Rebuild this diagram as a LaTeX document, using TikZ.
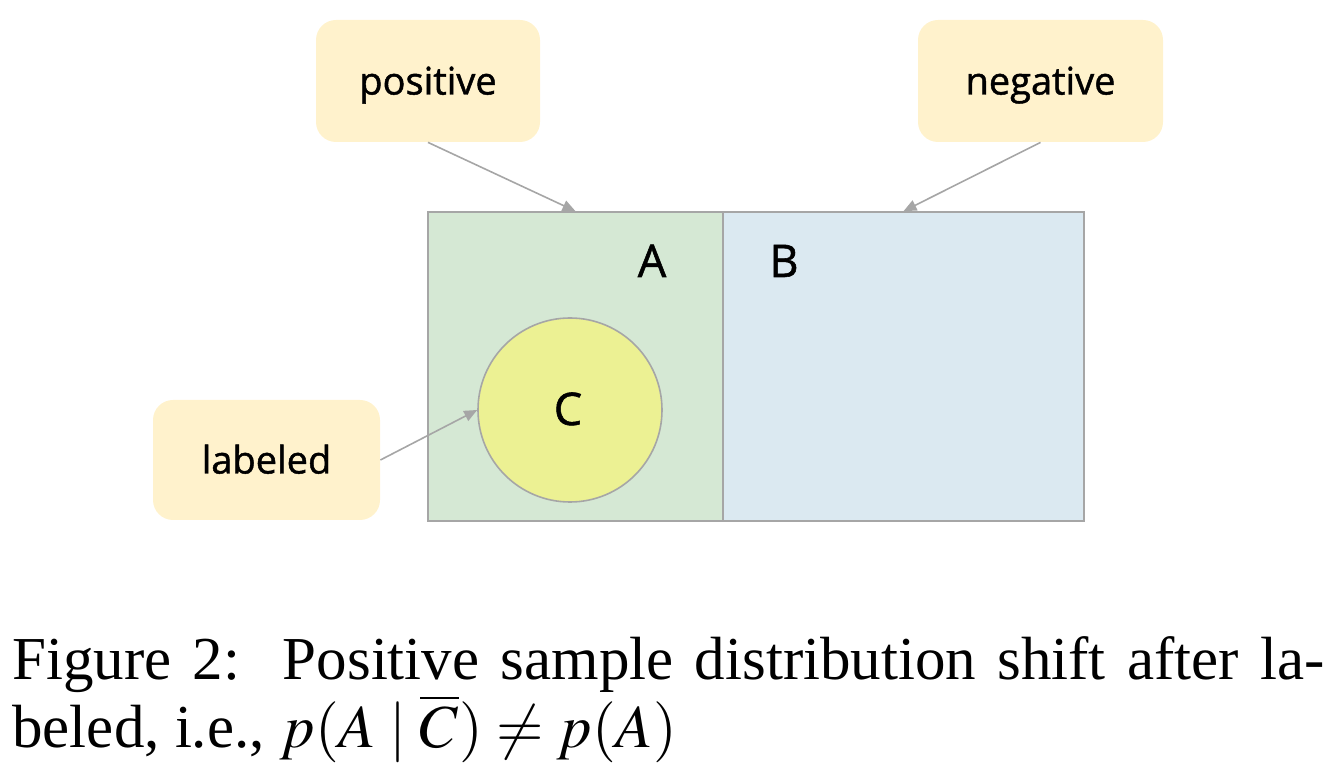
\documentclass[tikz,border=0pt]{standalone}
\usepackage{mathptmx}
\usepackage{fontspec}
\setmainfont{Liberation Serif}
\newfontfamily\boxfont{Open Sans}[UprightFeatures={FakeBold=1.2}]
\usetikzlibrary{arrows.meta,positioning}
\definecolor{tagfill}{HTML}{FFF2CC}
\definecolor{setA}{HTML}{D5E8D4}
\definecolor{setB}{HTML}{DBE9F1}
\definecolor{setC}{HTML}{ECF193}
\definecolor{edge}{HTML}{A6A6A6}

\begin{document}
\begin{tikzpicture}[x=0.5pt, y=-0.5pt,
  tag/.style={fill=tagfill, rounded corners=10pt, align=center, text height=14.5pt, text depth=1pt,
    font=\boxfont\fontsize{19}{22}\selectfont},
  region/.style={draw=edge, line width=0.8pt, inner sep=0pt, minimum height=154.5pt},
  lbl/.style={anchor=base, inner sep=0pt, font=\boxfont\fontsize{22.5}{26}\selectfont},
  link/.style={draw=edge, line width=0.8pt, -{Triangle[length=6.5pt, width=5.5pt]}}]

\useasboundingbox (0,0) rectangle (1340,774);

% Insiemi
\node[region, fill=setA, minimum width=147.5pt] (setA) at (575.5,366.5) {};
\node[region, fill=setB, minimum width=180.5pt] (setB) at (903.5,366.5) {};
\node[draw=edge, line width=0.8pt, fill=setC, circle, minimum size=92pt, inner sep=0pt] (setC) at (570,410) {};

\node[lbl] (labA) at (652,277) {A};
\node[lbl] (labB) at (784,277) {B};
\node[lbl] (labC) at (568,425) {C};

% Etichette
\node[tag, minimum width=112pt, minimum height=61pt] (pos) at (428,81) {positive};
\node[tag, minimum width=122.5pt, minimum height=61pt] (neg) at (1040.5,81) {negative};
\node[tag, minimum width=113.5pt, minimum height=60pt] (lab) at (266.5,460) {labeled};

% Frecce
\draw[link] (pos.south) -- (setA.north);
\draw[link] (neg.south) -- (setB.north);
\draw[link] (lab.east) -- (setC.west);

% Didascalia
\node[anchor=north west, inner sep=0pt, text width=656pt, align=justify,
  font=\fontsize{30.5}{32.5}\selectfont] (caption) at (12,636)
  {Figure 2:\ \ Positive sample distribution shift after la-\linebreak
   beled, i.e., $p(A \mid \overline{C}) \neq p(A)$};

\end{tikzpicture}
\end{document}
